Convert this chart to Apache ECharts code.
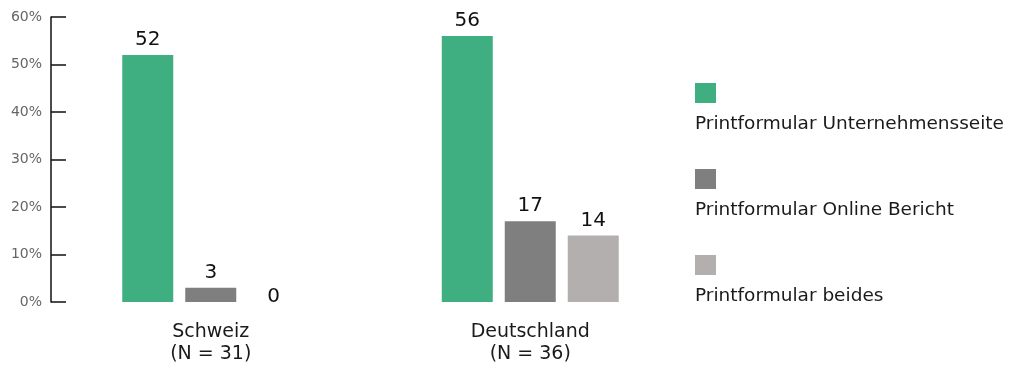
<!DOCTYPE html>
<html><head><meta charset="utf-8">
<script src="https://cdn.jsdelivr.net/npm/echarts@6/dist/echarts.min.js"></script>
<style>html,body{margin:0;padding:0;background:#fff}#c{width:1010px;height:374px}</style>
</head><body><div id="c"></div>
<script>
const categories = ['Schweiz\n(N = 31)', 'Deutschland\n(N = 36)'];
const seriesNames = ['Printformular Unternehmensseite', 'Printformular Online Bericht', 'Printformular beides'];
const unternehmensseite = [52, 56];
const onlineBericht = [3, 17];
const beides = [0, 14];
const yTicks = [0, 10, 20, 30, 40, 50, 60];
const colors = ['#3fae80', '#7f7f7f', '#b3afae'];
const FONT = '"DejaVu Sans", sans-serif';

const values = [unternehmensseite, onlineBericht, beides];
const rich = { t: { fontSize: 18.5, color: '#1a1a1a', fontFamily: FONT, lineHeight: 43 } };
colors.forEach((c, i) => { rich['s' + i] = { backgroundColor: c, width: 21, height: 20, lineHeight: 20 }; });

const chart = echarts.init(document.getElementById('c'), null, { renderer: 'canvas' });
chart.setOption({
  animation: false,
  textStyle: { fontFamily: FONT },
  grid: { left: 51, right: 320, top: 17, bottom: 72 },
  legend: {
    orient: 'vertical', left: 685, top: 78, itemWidth: 0, itemHeight: 0, itemGap: 35,
    icon: 'rect', selectedMode: false,
    data: seriesNames,
    formatter: name => '{s' + seriesNames.indexOf(name) + '|}\n{t|' + name + '}',
    textStyle: { rich: rich, padding: 0 }
  },
  xAxis: {
    type: 'category', data: categories,
    axisLine: { show: false }, axisTick: { show: false },
    axisLabel: { color: '#1a1a1a', fontSize: 19, lineHeight: 22, margin: 19, fontFamily: FONT }
  },
  yAxis: {
    type: 'value', min: yTicks[0], max: yTicks[yTicks.length - 1], interval: 10,
    axisLine: { show: true, lineStyle: { color: '#111', width: 1.5 } },
    axisTick: { show: true, inside: true, length: 15, lineStyle: { color: '#111', width: 1.5 } },
    splitLine: { show: false },
    axisLabel: { formatter: '{value}%', color: '#666', fontSize: 14, margin: 9, fontFamily: FONT }
  },
  series: seriesNames.map((n, i) => ({
    name: n, type: 'bar', barWidth: 51, barGap: '23.5%',
    itemStyle: { color: colors[i] },
    label: { show: true, position: 'top', distance: 5, color: '#111', fontSize: 20, fontWeight: 500, fontFamily: FONT },
    data: values[i].map(v => v === 0 ? { value: v, label: { offset: [0, 10] } } : v)
  }))
});
</script></body></html>
